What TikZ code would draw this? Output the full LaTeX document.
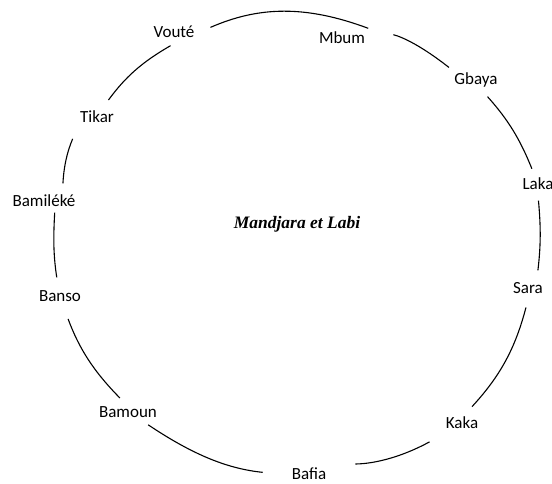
\documentclass[tikz,border=0pt]{standalone}
\usepackage{fontspec}
\setmainfont{Liberation Serif}
\setsansfont{Carlito}

\begin{document}
\begin{tikzpicture}[x=1pt,y=1pt]
        % styles %
        \tikzstyle{people} = [font=\sffamily\fontsize{17}{20}\selectfont, inner sep=3pt, text height=12pt, text depth=3pt];
        \tikzstyle{title} = [font=\bfseries\itshape\fontsize{17.5}{21}\selectfont];
        \tikzstyle{ring} = [draw=black, line width=1.1pt];

        \useasboundingbox (0,0) rectangle (552,484);

        % nodes %
        \node [title] (mandjara) at (297,260) {Mandjara et Labi};

        \node [people] (voute) at (174,451) {Vouté};
        \node [people] (mbum) at (342,445) {Mbum};
        \node [people] (gbaya) at (476,404) {Gbaya};
        \node [people] (laka) at (538,299) {Laka};
        \node [people] (sara) at (528,195) {Sara};
        \node [people] (kaka) at (462,60) {Kaka};
        \node [people] (bafia) at (309,9) {Bafia};
        \node [people] (bamoun) at (128,71) {Bamoun};
        \node [people] (banso) at (60,187) {Banso};
        \node [people] (bamileke) at (44,282) {Bamiléké};
        \node [people] (tikar) at (97,366) {Tikar};

        % edges %
        \path[ring] (voute.east) edge [bend left=22, shorten <=14pt] (mbum.north east)
                    (mbum.north east) edge [bend left=12, shorten <=26pt, shorten >=3pt] (gbaya.north west)
                    (gbaya.-60) edge [bend left=10, shorten <=8pt, shorten >=6pt] (laka.110)
                    (laka.south) edge [bend left=6, shorten <=5pt, shorten >=8pt] (sara.50)
                    (sara.south) edge [bend left=14, shorten <=8pt, shorten >=9pt] (kaka.70)
                    (kaka.south west) edge [bend left=14, shorten <=15pt, shorten >=26pt] (bafia.north east)
                    (bafia.west) edge [bend left=14, shorten <=26pt, shorten >=2pt] (bamoun.-30)
                    (bamoun.110) edge [bend left=12, shorten <=6pt, shorten >=12pt] (banso.-70)
                    (banso.100) edge [bend left=6, shorten <=9pt] (bamileke.-45)
                    (bamileke.30) edge [bend left=10, shorten <=8pt, shorten >=11pt] (tikar.south west)
                    (tikar.60) edge [bend left=12, shorten <=9pt, shorten >=4pt] (voute.south);
\end{tikzpicture}
\end{document}
